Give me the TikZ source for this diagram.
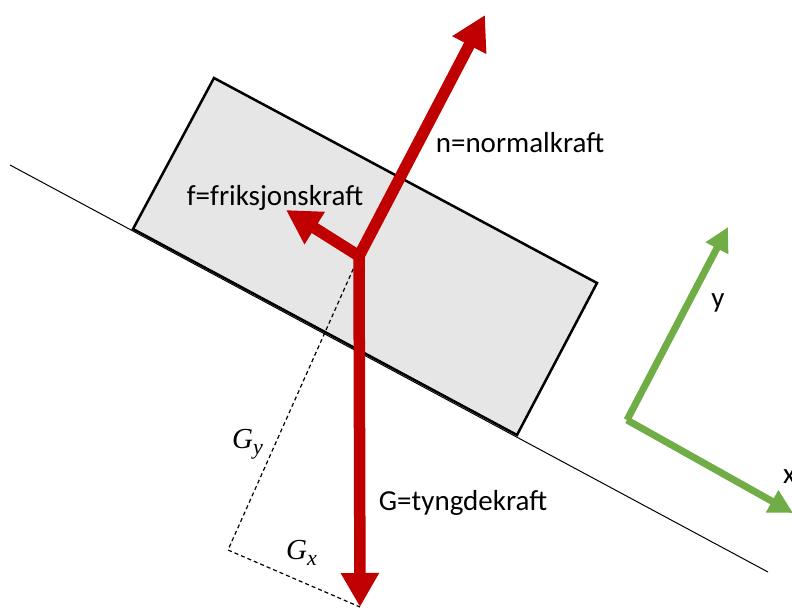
\documentclass[tikz,border=0pt]{standalone}
\usepackage{fontspec}
\setmainfont{Carlito}
\newfontfamily\compfont{Liberation Serif}
\usetikzlibrary{arrows.meta,calc}
\definecolor{fred}{HTML}{C00000}
\definecolor{agreen}{HTML}{70AD47}
\definecolor{blockgray}{HTML}{E7E6E6}
\newcommand{\compsym}[2]{{\compfont\itshape\fontsize{29}{32}\selectfont #1\raisebox{-6pt}{\fontsize{22}{24}\selectfont #2}}}
\begin{document}
\begin{tikzpicture}[x=1pt,y=-1pt,
  lbl/.style={font=\fontsize{29}{34}\selectfont, inner sep=0pt, anchor=base},
  mlbl/.style={inner sep=0pt},
  force/.style={draw=fred, line width=11.5pt, -{Triangle[length=34pt,width=36pt]}, fred},
  axis/.style={draw=agreen, line width=7pt, -{Triangle[length=24pt,width=24pt]}, agreen},
  helper/.style={draw=black, line width=1.2pt, dash pattern=on 4pt off 3pt},
  blockbox/.style={draw=black, line width=2.5pt, fill=blockgray, line join=miter}]
\useasboundingbox (0,0) rectangle (792,608);
% incline
\coordinate (inclA) at (10,165);
\coordinate (inclB) at (768,572);
\draw[line width=1pt] (inclA) -- (inclB);
% block
\coordinate (b1) at (133,229);
\coordinate (b2) at (214,78);
\coordinate (b3) at (597,283);
\coordinate (b4) at (517,435);
\draw[blockbox] (b1) -- (b2) -- (b3) -- (b4) -- cycle;
% dashed components
\coordinate (O) at (359,256);
\coordinate (Otop) at (359,253);
\coordinate (corner) at (228,550);
\coordinate (Gtip) at (360,607);
\draw[helper] (O) -- (corner) -- (Gtip);
% forces
\coordinate (ntip) at (485,15);
\coordinate (ftip) at (286,210);
\draw[force] (O) -- (ntip);
\draw[force] (O) -- (ftip);
\draw[force] (Otop) -- (Gtip);
% axes
\coordinate (A) at (627,420);
\coordinate (ytip) at (728,227);
\coordinate (xtip) at (793,513);
\draw[axis] (A) -- (ytip);
\draw[axis] (A) -- (xtip);
% labels
\node[lbl] (nlab) at (520,152) {n=normalkraft};
\node[lbl] (flab) at (275,205) {f=friksjonskraft};
\node[lbl] (glab) at (463,510) {G=tyngdekraft};
\node[lbl] (ylab) at (718,307) {y};
\node[lbl, anchor=base west] (xlab) at (783,483) {x};
\node[mlbl, anchor=base west] (gylab) at (232,448) {\compsym{G}{y}};
\node[mlbl, anchor=base west] (gxlab) at (286,559) {\compsym{G}{x}};
\end{tikzpicture}
\end{document}
